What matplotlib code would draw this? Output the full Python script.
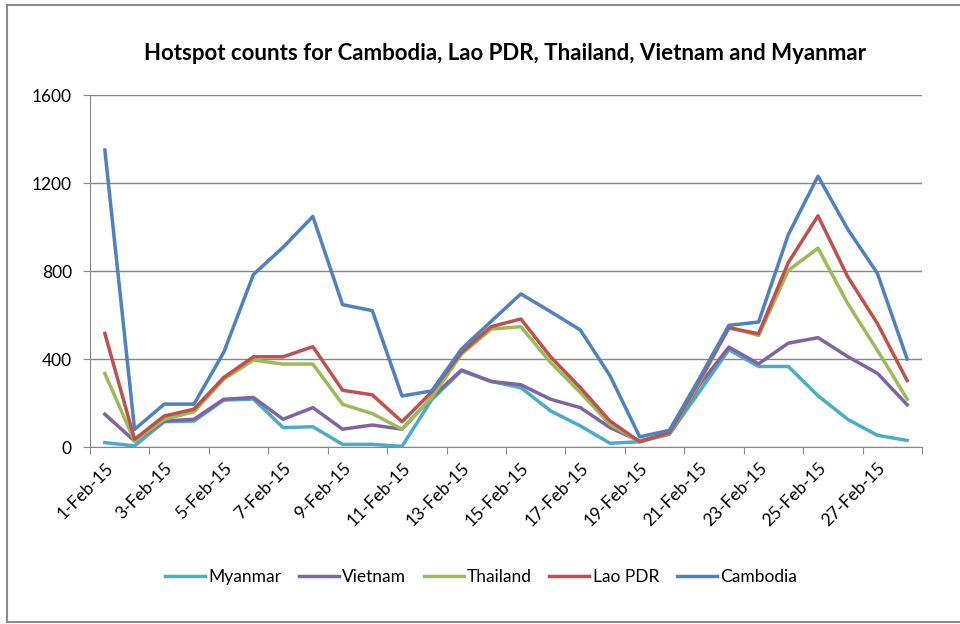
import matplotlib.pyplot as plt
import numpy as np
from matplotlib.lines import Line2D

days = [f"{d}-Feb-15" for d in range(1, 29)]

myanmar = [20, 5, 115, 118, 213, 218, 88, 92, 12, 12, 3, 215, 346, 298,
           270, 164, 96, 17, 24, 58, 250, 442, 366, 366, 233, 126, 53, 30]
vietnam = [149, 27, 118, 126, 217, 225, 126, 179, 81, 100, 81, 225, 350, 298,
           283, 217, 179, 88, 27, 62, 280, 454, 378, 472, 497, 411, 335, 192]
thailand = [334, 27, 126, 160, 308, 395, 377, 377, 194, 152, 81, 225, 422, 536,
            547, 384, 248, 103, 24, 62, 290, 545, 507, 802, 904, 652, 439, 218]
lao = [516, 35, 141, 172, 316, 410, 410, 456, 258, 237, 115, 250, 430, 547,
       582, 410, 270, 118, 24, 65, 300, 541, 515, 838, 1051, 774, 561, 302]
cambodia = [1350, 80, 195, 195, 430, 784, 908, 1048, 647, 620, 232, 255, 445, 571,
            696, 615, 532, 324, 46, 76, 310, 553, 568, 965, 1231, 990, 789, 400]

series = [("Myanmar", myanmar, "#4BACC6"),
          ("Vietnam", vietnam, "#8064A2"),
          ("Thailand", thailand, "#9BBB59"),
          ("Lao PDR", lao, "#C0504D"),
          ("Cambodia", cambodia, "#4F81BD")]

plt.rcParams['font.family'] = ['Lato', 'DejaVu Sans']

fig = plt.figure(figsize=(9.6, 6.24), dpi=100)
ax = fig.add_axes([90 / 960, 1 - 447 / 624, (922 - 90) / 960, (447 - 95) / 624])

x = np.arange(len(days))
for name, vals, col in series:
    ax.plot(x, vals, color=col, linewidth=2.5, label=name, solid_joinstyle="round")

ax.set_xlim(-0.5, len(days) - 0.5)
ax.set_ylim(0, 1600)
ax.set_yticks([0, 400, 800, 1200, 1600])
ax.yaxis.grid(True, color="#868686", linewidth=1)
ax.set_axisbelow(True)

# tick marks between categories, labels on every other day
ax.set_xticks(np.arange(-0.5, len(days), 2))
ax.set_xticklabels([])
ax.set_xticks(x[::2], minor=True)
ax.set_xticklabels(days[::2], minor=True, rotation=45, ha="right",
                   rotation_mode="anchor", fontsize=12.5)
ax.tick_params(axis="x", which="major", length=5, color="#868686", direction="out")
ax.tick_params(axis="x", which="minor", length=0, pad=9)
ax.tick_params(axis="y", length=5, color="#868686", labelsize=12.5, pad=8)

for side in ["top", "right"]:
    ax.spines[side].set_visible(False)
for side in ["left", "bottom"]:
    ax.spines[side].set_color("#868686")

fig.text(505 / 960, 1 - 54 / 624, "Hotspot counts for Cambodia, Lao PDR, Thailand, Vietnam and Myanmar",
         ha="center", va="center", fontsize=16, fontweight="bold")

handles = [Line2D([0], [0], color=c, linewidth=2.5) for _, _, c in series]
fig.legend(handles, [n for n, _, _ in series], loc="center", bbox_to_anchor=(481 / 960, 1 - 577 / 624),
           ncol=5, frameon=False, fontsize=12.5, handlelength=2.3, handletextpad=0.2, columnspacing=1.0)

# chart area border
border = dict(color="#8c8c8c", linewidth=1.5, transform=fig.transFigure)
fig.add_artist(Line2D([7 / 960, 7 / 960], [1 - 5 / 624, 1 - 622 / 624], **border))
fig.add_artist(Line2D([7 / 960, 1], [1 - 5 / 624, 1 - 5 / 624], **border))
fig.add_artist(Line2D([7 / 960, 1], [1 - 622 / 624, 1 - 622 / 624], **border))

plt.savefig("out.png", dpi=100)
